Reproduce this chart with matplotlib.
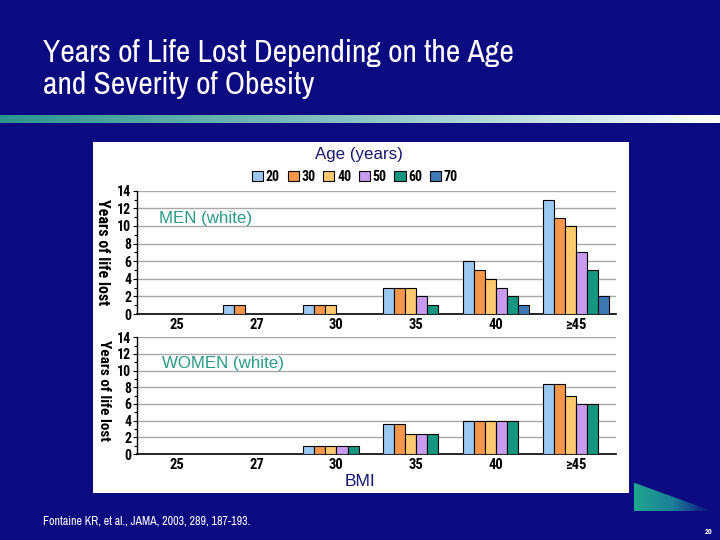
import numpy as np
import matplotlib
matplotlib.use("Agg")
import matplotlib.pyplot as plt
from matplotlib import font_manager as fm
from matplotlib.patches import Rectangle, Polygon, Patch
from matplotlib.colors import LinearSegmentedColormap

# ---------------- data ----------------
bmi_labels = ["25", "27", "30", "35", "40", "≥45"]
ages = ["20", "30", "40", "50", "60", "70"]
men = {
    "20": [0, 1, 1, 3, 6, 13],
    "30": [0, 1, 1, 3, 5, 10.9],
    "40": [0, 0, 1, 3, 4, 10],
    "50": [0, 0, 0, 2, 3, 7],
    "60": [0, 0, 0, 1, 2, 5],
    "70": [0, 0, 0, 0, 1, 2],
}
women = {
    "20": [0, 0, 1, 3.6, 4, 8.4],
    "30": [0, 0, 1, 3.6, 4, 8.4],
    "40": [0, 0, 1, 2.45, 4, 7],
    "50": [0, 0, 1, 2.45, 4, 6],
    "60": [0, 0, 1, 2.45, 4, 6],
    "70": [0, 0, 0, 0, 0, 0],
}
colors = ["#9CC8F2", "#F5964B", "#FAC86E", "#C99BF0", "#15977F", "#3E79B5"]
yticks = [0, 2, 4, 6, 8, 10, 12, 14]

_ttf = fm.fontManager.ttflist
_names = {f.name for f in _ttf}


def _w(v):
    if isinstance(v, str):
        return fm.weight_dict.get(v, 400)
    return int(v)


def pick(cands, need_bold=False):
    for c in cands:
        if c not in _names:
            continue
        if need_bold and not any(f.name == c and _w(f.weight) >= 700 for f in _ttf):
            continue
        return [c, "DejaVu Sans"]
    return ["DejaVu Sans"]


NARROW_CANDS = ["Arial Narrow", "Liberation Sans Narrow", "Archivo Narrow", "PT Sans Narrow",
                "Roboto Condensed", "Pragati Narrow", "Asap Condensed", "Barlow Condensed",
                "IBM Plex Sans Condensed", "Fira Sans Condensed"]
NARROW = pick(NARROW_CANDS)
NARROW_B = pick(["Arial Narrow", "Liberation Sans Narrow", "Roboto Condensed", "PT Sans Narrow",
                 "Archivo Narrow", "Asap Condensed", "Pragati Narrow", "Barlow Condensed",
                 "IBM Plex Sans Condensed", "Fira Sans Condensed"], need_bold=True)
SANS = pick(["Arial", "Liberation Sans", "Arimo"])

NAVY_BG = "#0C0A80"
W, H = 720, 540
fig = plt.figure(figsize=(7.2, 5.4), dpi=100, facecolor=NAVY_BG)


def fx(px):
    return px / W


def fy(py):
    return 1 - py / H


# white panel
fig.patches.append(Rectangle((fx(92.7), fy(492.7)), fx(629) - fx(92.7), fy(141.7) - fy(492.7),
                             transform=fig.transFigure, facecolor="white", edgecolor="none", zorder=-5))

# gradient bar under title
gax = fig.add_axes([0, fy(122.7), 1, 7.7 / H])
gcm = LinearSegmentedColormap.from_list("g", ["#2A968E", "#8CC4C4", "#FFFFFF"])
gax.imshow(np.linspace(0, 1, 256)[None, :], aspect="auto", cmap=gcm, extent=[0, 1, 0, 1])
gax.set_axis_off()

# triangle decoration
tax = fig.add_axes([fx(634), fy(511), fx(712) - fx(634), (511 - 482.7) / H])
tcm = LinearSegmentedColormap.from_list("t", ["#1FA88E", "#1C7E98", NAVY_BG])
im = tax.imshow(np.linspace(0, 1, 256)[None, :], aspect="auto", cmap=tcm, extent=[0, 1, 0, 1])
tri = Polygon([[0, 0], [0, 1], [1, 0]], closed=True, transform=tax.transAxes, facecolor="none", edgecolor="none")
tax.add_patch(tri)
im.set_clip_path(tri)
tax.set_xlim(0, 1)
tax.set_ylim(0, 1)
tax.set_axis_off()

# title
fig.text(fx(43), fy(62.3), "Years of Life Lost Depending on the Age", color="white",
         fontsize=22.8, family=NARROW, va="baseline", ha="left")
fig.text(fx(43), fy(94.3), "and Severity of Obesity", color="white",
         fontsize=22.8, family=NARROW, va="baseline", ha="left")

# footer
fig.text(fx(43), fy(524), "Fontaine KR, et al., JAMA, 2003, 289, 187-193.", color="white",
         fontsize=8.6, family=NARROW, va="baseline", ha="left")
fig.text(fx(709), fy(532), "20", color="white", fontsize=5.5, family=NARROW_B,
         weight="bold", va="center", ha="center")

bw = 0.139
x = np.arange(len(bmi_labels))


def draw_panel(rect, data, label, label_pos):
    ax = fig.add_axes(rect)
    ax.set_facecolor("none")
    for j, (age, col) in enumerate(zip(ages, colors)):
        vals = np.array(data[age], dtype=float)
        mask = vals > 0
        ax.bar(x[mask] + (j - 2.5) * bw, vals[mask], width=bw, color=col,
               edgecolor="black", linewidth=0.8, zorder=3)
    ax.set_xlim(-0.5, len(bmi_labels) - 0.5)
    ax.set_ylim(0, 14)
    ax.set_yticks(yticks)
    ax.set_yticks(np.arange(1, 14, 2), minor=True)
    ax.set_yticklabels([str(v) for v in yticks], family=NARROW_B, weight="bold", fontsize=10)
    ax.set_xticks(x)
    ax.set_xticklabels(bmi_labels, family=NARROW_B, weight="bold", fontsize=10.5)
    ax.tick_params(axis="x", length=0, pad=3)
    ax.tick_params(axis="y", which="major", length=3, width=0.8, pad=1)
    ax.tick_params(axis="y", which="minor", length=2, width=0.8)
    for v in yticks[1:]:
        ax.axhline(v, color="#A8A8A8", linewidth=1.0, zorder=1)
    for s in ["top", "right"]:
        ax.spines[s].set_visible(False)
    ax.spines["left"].set_linewidth(1.0)
    ax.spines["bottom"].set_linewidth(1.2)
    ax.text(label_pos[0], label_pos[1], label, transform=ax.transAxes, color="#2A9A88",
            fontsize=12.2, family=SANS, va="center", ha="left")
    return ax


men_rect = [fx(136.7), fy(314), fx(616) - fx(136.7), (314 - 190.7) / H]
wom_rect = [fx(136.7), fy(454), fx(616) - fx(136.7), (454 - 337.3) / H]
ax1 = draw_panel(men_rect, men, "MEN (white)", ((159 - 136.7) / 479.3, (314 - 219) / 123.3))
ax2 = draw_panel(wom_rect, women, "WOMEN (white)", ((161.7 - 136.7) / 479.3, (454 - 363.3) / 116.7))

# y labels
fig.text(fx(102), fy(252), "Years of life lost", rotation=-90, family=NARROW_B, weight="bold",
         fontsize=11.5, ha="center", va="center", color="black")
fig.text(fx(104), fy(390), "Years of life lost", rotation=-90, family=NARROW_B, weight="bold",
         fontsize=11, ha="center", va="center", color="black")

# legend
fig.text(fx(359), fy(155), "Age (years)", color="#161670", fontsize=12.2, family=SANS,
         ha="center", va="center")
handles = [Patch(facecolor=c, edgecolor="black", linewidth=0.8) for c in colors]
leg = fig.legend(handles, ages, loc="center", bbox_to_anchor=(fx(355), fy(177)), ncol=6,
                 frameon=False, handlelength=0.8, handleheight=0.7, handletextpad=0.2,
                 columnspacing=0.55, borderpad=0, borderaxespad=0,
                 prop={"family": NARROW_B, "weight": "bold", "size": 10})

# BMI label
fig.text(fx(360), fy(482), "BMI", color="#161670", fontsize=12.5, family=SANS,
         ha="center", va="center")

fig.savefig("out.png", dpi=100, facecolor=NAVY_BG)
